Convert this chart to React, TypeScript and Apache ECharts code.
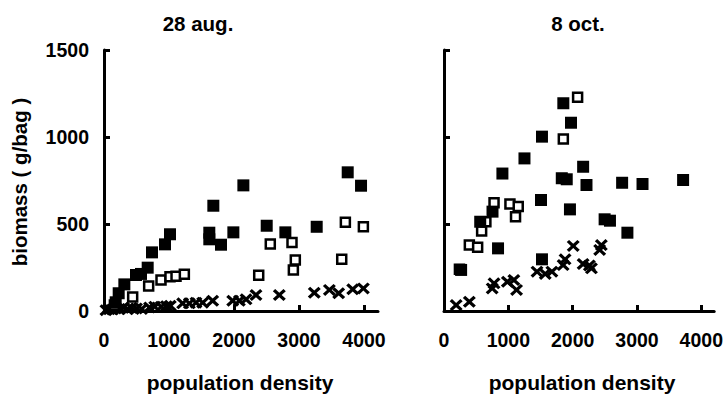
import React, { useEffect, useRef } from "react";
import * as echarts from "echarts";

const panelTitles = ["28 aug.", "8 oct."];
const xTickValues = [0, 1000, 2000, 3000, 4000];
const yTickValues = [0, 500, 1000, 1500];

// 28 aug.
const augFilled: number[][] = [
  [180, 50], [226, 102], [313, 153], [492, 207], [569, 213], [672, 249], [738, 337],
  [938, 383], [1015, 441], [1620, 450], [1620, 412], [1682, 605], [1800, 381],
  [1990, 452], [2144, 722], [2503, 490], [2790, 452], [3272, 484], [3749, 797], [3954, 720],
];
const augOpen: number[][] = [
  [160, 35], [441, 80], [687, 144], [877, 178], [1015, 197], [1108, 200], [1236, 211],
  [2380, 205], [2558, 385], [2892, 393], [2943, 293], [2913, 236], [3657, 297],
  [3713, 510], [3990, 484],
];
const augCross: number[][] = [
  [30, 5], [80, 10], [130, 8], [180, 15], [240, 12], [300, 20], [360, 10], [420, 18],
  [500, 15], [580, 12], [700, 20], [780, 25], [880, 25], [960, 28], [1020, 30],
  [1210, 44], [1313, 44], [1415, 48], [1518, 48], [1672, 59], [1980, 59], [2082, 59],
  [2185, 67], [2338, 92], [2697, 92], [3235, 105], [3467, 121], [3610, 102],
  [3826, 125], [3990, 130],
];

// 8 oct.
const octFilled: number[][] = [
  [266, 236], [563, 513], [754, 571], [840, 360], [908, 790], [1251, 877], [1523, 1002],
  [1508, 638], [1523, 297], [1855, 1194], [1974, 1082], [1831, 763], [1908, 757],
  [1958, 584], [2163, 829], [2215, 724], [2497, 527], [2580, 519], [2769, 737],
  [2851, 450], [3086, 730], [3717, 753],
];
const octOpen: number[][] = [
  [240, 240], [394, 379], [523, 366], [585, 460], [651, 513], [778, 622], [1025, 615],
  [1154, 600], [1112, 542], [1855, 989], [2077, 1228],
];
const octCross: number[][] = [
  [189, 34], [394, 53], [749, 130], [778, 159], [985, 168], [1086, 178], [1128, 121],
  [1446, 226], [1574, 213], [1677, 226], [1852, 264], [1882, 297], [2009, 374],
  [2163, 270], [2260, 262], [2292, 245], [2420, 351], [2446, 379],
];

const FONT = "'Liberation Sans', Arial, sans-serif";
const CROSS =
  "path://M0,18L18,0L50,32L82,0L100,18L68,50L100,82L82,100L50,68L18,100L0,82L32,50Z";

export default function App() {
  const ref = useRef<HTMLDivElement>(null);
  useEffect(() => {
    if (!ref.current) return;
    const chart = echarts.init(ref.current, null, { renderer: "svg" });
    const grids = [
      { left: 104, top: 50, width: 274, height: 261, max: 4215 },
      { left: 444, top: 50, width: 273, height: 261, max: 4200 },
    ];
    const axisLine = { show: true, lineStyle: { color: "#000", width: 3 } };
    const fmt = (v: number) => String(v);
    const xAxis = grids.map((g, i) => ({
      type: "value",
      gridIndex: i,
      min: 0,
      max: g.max,
      interval: 1000,
      axisLine,
      splitLine: { show: false },
      axisTick: {
        show: true,
        inside: true,
        length: 6,
        lineStyle: { color: "#000", width: 3 },
        customValues: xTickValues,
      },
      axisLabel: {
        customValues: xTickValues,
        formatter: fmt,
        margin: 19,
        color: "#000",
        fontFamily: FONT,
        fontWeight: "bold",
        fontSize: 19.5,
      },
    }));
    const yAxis = grids.map((g, i) => ({
      type: "value",
      gridIndex: i,
      min: 0,
      max: 1500,
      interval: 500,
      axisLine,
      splitLine: { show: false },
      axisTick: {
        show: true,
        inside: true,
        length: 6,
        lineStyle: { color: "#000", width: 3 },
        customValues: yTickValues,
      },
      axisLabel: {
        show: i === 0,
        customValues: yTickValues,
        formatter: fmt,
        margin: 15,
        color: "#000",
        fontFamily: FONT,
        fontWeight: "bold",
        fontSize: 19.5,
      },
    }));
    const filledStyle = { color: "#000", opacity: 1 };
    const openStyle = { color: "#fff", borderColor: "#000", borderWidth: 2.5, opacity: 1 };
    const mk = (data: number[][], idx: number, kind: string) => ({
      type: "scatter",
      xAxisIndex: idx,
      yAxisIndex: idx,
      data,
      symbol: kind === "cross" ? CROSS : "rect",
      symbolSize: kind === "filled" ? 12 : kind === "open" ? 9 : [13, 12],
      itemStyle: kind === "open" ? openStyle : filledStyle,
      z: kind === "cross" ? 3 : kind === "open" ? 4 : 5,
      silent: true,
    });
    const textStyle = (t: string, size: number) => ({
      text: t,
      fill: "#000",
      font: `bold ${size}px ${FONT}`,
      textAlign: "center",
      textVerticalAlign: "middle",
    });
    chart.setOption({
      animation: false,
      backgroundColor: "#fff",
      grid: grids.map((g) => ({ left: g.left, top: g.top, width: g.width, height: g.height })),
      xAxis,
      yAxis,
      series: [
        mk(augCross, 0, "cross"),
        mk(augOpen, 0, "open"),
        mk(augFilled, 0, "filled"),
        mk(octCross, 1, "cross"),
        mk(octOpen, 1, "open"),
        mk(octFilled, 1, "filled"),
      ],
      graphic: [
        { type: "text", x: 198, y: 23, style: textStyle(panelTitles[0], 20.5) },
        { type: "text", x: 578, y: 23, style: textStyle(panelTitles[1], 20.5) },
        { type: "text", x: 240, y: 382, style: textStyle("population density", 21) },
        { type: "text", x: 582, y: 382, style: textStyle("population density", 21) },
        {
          type: "text",
          x: 19,
          y: 182,
          rotation: Math.PI / 2,
          style: textStyle("biomass ( g/bag )", 20.5),
        },
      ],
    });
    return () => chart.dispose();
  }, []);
  return (
    <div
      ref={ref}
      style={{ position: "fixed", left: 0, top: 0, width: 726, height: 397, background: "#fff" }}
    />
  );
}
